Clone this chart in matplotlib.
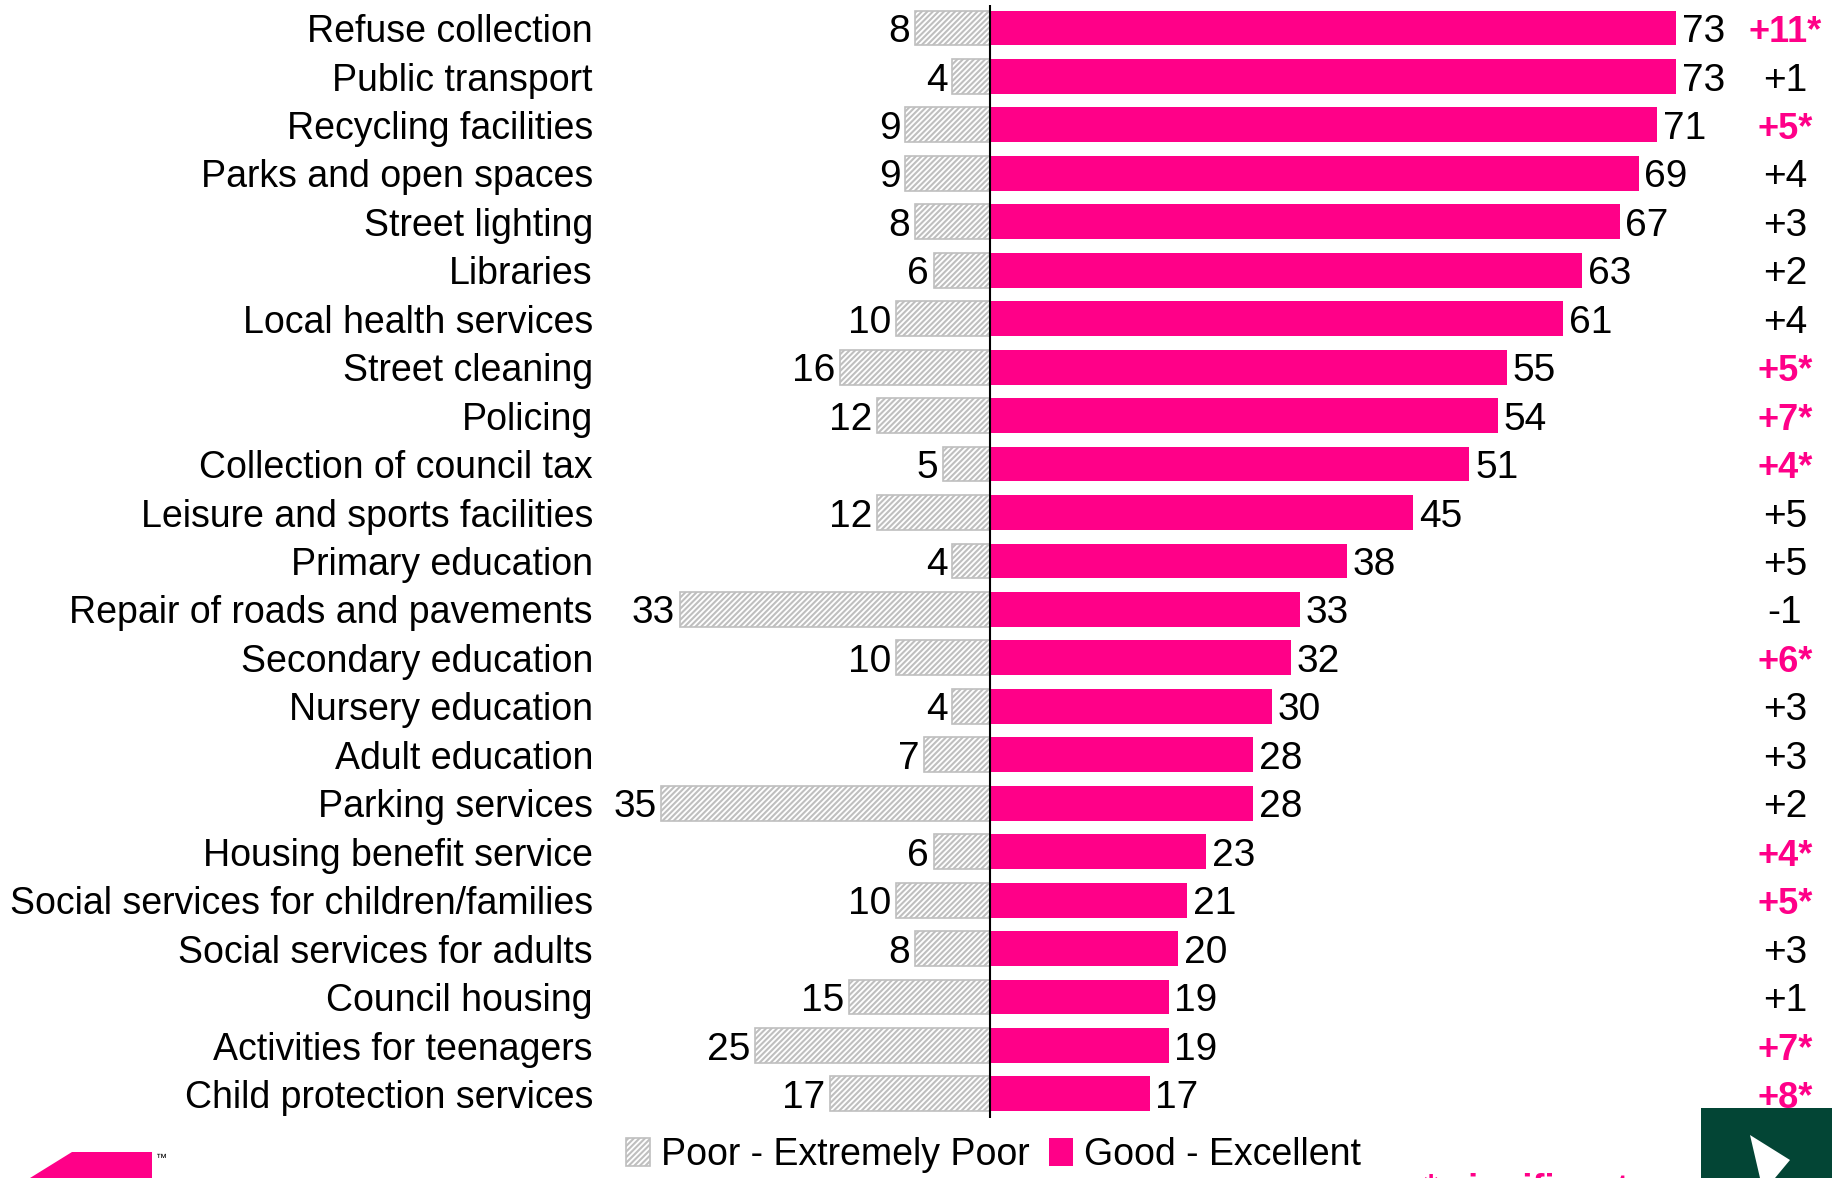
import matplotlib
matplotlib.use("Agg")
import matplotlib.pyplot as plt
from matplotlib.patches import Rectangle, Polygon
from matplotlib import font_manager

categories = ["Refuse collection", "Public transport", "Recycling facilities",
              "Parks and open spaces", "Street lighting", "Libraries",
              "Local health services", "Street cleaning", "Policing",
              "Collection of council tax", "Leisure and sports facilities",
              "Primary education", "Repair of roads and pavements",
              "Secondary education", "Nursery education", "Adult education",
              "Parking services", "Housing benefit service",
              "Social services for children/families", "Social services for adults",
              "Council housing", "Activities for teenagers", "Child protection services"]
good = [73, 73, 71, 69, 67, 63, 61, 55, 54, 51, 45, 38, 33, 32, 30, 28, 28, 23, 21, 20, 19, 19, 17]
poor = [8, 4, 9, 9, 8, 6, 10, 16, 12, 5, 12, 4, 33, 10, 4, 7, 35, 6, 10, 8, 15, 25, 17]
change = ["+11*", "+1", "+5*", "+4", "+3", "+2", "+4", "+5*", "+7*", "+4*", "+5", "+5", "-1",
          "+6*", "+3", "+3", "+2", "+4*", "+5*", "+3", "+1", "+7*", "+8*"]
legend_labels = ["Poor - Extremely Poor", "Good - Excellent"]

PINK = "#FF0088"
GRAY = "#BFBFBF"

avail = {f.name for f in font_manager.fontManager.ttflist}
fam = [f for f in ["Liberation Sans Narrow", "Liberation Sans", "DejaVu Sans"] if f in avail]
bold_fam = [f for f in ["Liberation Sans", "DejaVu Sans"] if f in avail]
plt.rcParams['font.family'] = fam
plt.rcParams['hatch.linewidth'] = 1.5
plt.rcParams['hatch.color'] = GRAY

W, H = 1833, 1178
fig = plt.figure(figsize=(W / 100, H / 100), dpi=100)
ax = fig.add_axes([0, (H - 1118) / H, 1, (1118 - 5) / H])

pxu = 9.4
zero_px = 990
ax.set_xlim(-zero_px / pxu, (W - zero_px) / pxu)
y0, dy = 28.0, 48.45
top_i = (5 - y0) / dy
bot_i = (1118 - y0) / dy
ax.set_ylim(bot_i, top_i)
ax.axis("off")

ys = list(range(len(categories)))
ax.barh(ys, good, height=0.72, color=PINK, edgecolor="none", zorder=2)
ax.barh(ys, [-p for p in poor], height=0.72, color="white", edgecolor=GRAY,
        hatch="//////", linewidth=1.2, zorder=2)
ax.axvline(0, color="black", linewidth=1.5, zorder=3)

fs = 28
bl = 0.29  # baseline offset (rows) so digits are centred on the bar
label_x = (593 - zero_px) / pxu
chg_x = (1785 - zero_px) / pxu
for i, (c, g, p, ch) in enumerate(zip(categories, good, poor, change)):
    ax.text(label_x, i + bl, c, ha="right", va="baseline", fontsize=27)
    ax.text(g + 0.6, i + bl, str(g), ha="left", va="baseline", fontsize=fs)
    ax.text(-p - 0.5, i + bl, str(p), ha="right", va="baseline", fontsize=fs)
    sig = ch.endswith("*")
    ax.text(chg_x, i + bl, ch, ha="center", va="baseline", fontsize=fs if not sig else 26,
            color=PINK if sig else "black", fontweight="bold" if sig else "normal",
            family=bold_fam if sig else fam)

handles = [Rectangle((0, 0), 1, 1, facecolor="white", edgecolor=GRAY, hatch="//////", linewidth=1.2),
           Rectangle((0, 0), 1, 1, facecolor=PINK, edgecolor="none")]
fig.legend(handles, legend_labels, loc="center", bbox_to_anchor=(0.542, 1 - 1155 / H),
           ncol=2, frameon=False, fontsize=27, handlelength=0.65, handleheight=0.8,
           handletextpad=0.3, columnspacing=0.5, borderaxespad=0)

# decorative corner elements (logos)
fig.patches.append(Polygon([(30 / W, 0), (72 / W, (H - 1152) / H), (152 / W, (H - 1152) / H),
                            (152 / W, 0)], closed=True, transform=fig.transFigure,
                           facecolor=PINK, edgecolor="none"))
fig.text(156 / W, 1 - 1158 / H, "™", fontsize=8, ha="left", va="center")
fig.patches.append(Rectangle((1701 / W, 0), (W - 1701) / W, (H - 1108) / H,
                             transform=fig.transFigure, facecolor="#034535", edgecolor="none"))
fig.patches.append(Polygon([(1750 / W, 1 - 1135 / H), (1790 / W, 1 - 1160 / H),
                            (1775 / W, 1 - 1178 / H), (1760 / W, 1 - 1178 / H)],
                           closed=True, transform=fig.transFigure, facecolor="white", edgecolor="none"))
fig.text(1526 / W, 1 - 1190 / H, "* significant", ha="center", va="center", fontsize=26,
         color=PINK, fontweight="bold", family=bold_fam)

fig.savefig("out.png", dpi=100)
